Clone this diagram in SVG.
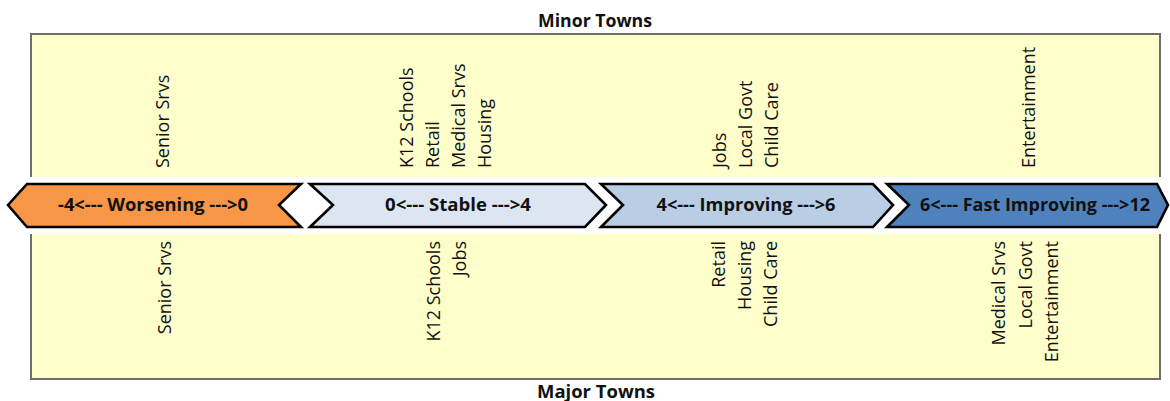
<svg xmlns="http://www.w3.org/2000/svg" width="1170" height="401" viewBox="0 0 1170 401">
  <style>
    .box{fill:#FFFFCC;stroke:#6E6E6E;stroke-width:2}
    .band{fill:#FFFFFF}
    .chev{stroke:#000;stroke-width:2.6;stroke-linejoin:miter}
    .lbl{font-family:"Open Sans","Liberation Sans",sans-serif;font-weight:700;font-size:17.5px;fill:#111;text-anchor:middle}
    .ttl{font-family:"Open Sans","Liberation Sans",sans-serif;font-weight:700;font-size:17.5px;fill:#111;text-anchor:middle}
    .svc{font-family:"Open Sans","Liberation Sans",sans-serif;font-size:18px;fill:#111}
    .up{text-anchor:start}
    .dn{text-anchor:end}
  </style>

  <!-- background panel with the scale band cut through it -->
  <rect class="box" x="31" y="34" width="1129" height="345"/>
  <rect class="band" x="0" y="177" width="1170" height="57"/>

  <!-- titles -->
  <text class="ttl" x="595" y="27" textLength="114" lengthAdjust="spacingAndGlyphs">Minor Towns</text>
  <text class="ttl" x="596" y="398" textLength="118" lengthAdjust="spacingAndGlyphs">Major Towns</text>

  <!-- scale chevrons -->
  <g id="worsening">
    <path class="chev" fill="#F79646" d="M8,205 L27,184 L301,184 L279,205 L301,227 L27,227 Z"/>
    <text class="lbl" x="153" y="211" textLength="190" lengthAdjust="spacingAndGlyphs">-4&lt;--- Worsening ---&gt;0</text>
  </g>
  <g id="stable">
    <path class="chev" fill="#DCE6F2" d="M310,184 L585,184 L606,205 L585,227 L310,227 L333,205 Z"/>
    <text class="lbl" x="458" y="211" textLength="146" lengthAdjust="spacingAndGlyphs">0&lt;--- Stable ---&gt;4</text>
  </g>
  <g id="improving">
    <path class="chev" fill="#B9CDE5" d="M601,184 L873,184 L893,205 L873,227 L601,227 L623,205 Z"/>
    <text class="lbl" x="746" y="211" textLength="179" lengthAdjust="spacingAndGlyphs">4&lt;--- Improving ---&gt;6</text>
  </g>
  <g id="fast-improving">
    <path class="chev" fill="#4F81BD" d="M887,184 L1157,184 L1168,205 L1157,227 L887,227 L909,205 Z"/>
    <text class="lbl" x="1035" y="211" textLength="230" lengthAdjust="spacingAndGlyphs">6&lt;--- Fast Improving ---&gt;12</text>
  </g>

  <!-- minor towns: services listed above the scale -->
  <g id="minor-worsening">
    <text class="svc up" transform="translate(169,168) rotate(-90)">Senior Srvs</text>
  </g>
  <g id="minor-stable">
    <text class="svc up" transform="translate(413,168) rotate(-90)">K12 Schools</text>
    <text class="svc up" transform="translate(439,168) rotate(-90)">Retail</text>
    <text class="svc up" transform="translate(465,168) rotate(-90)">Medical Srvs</text>
    <text class="svc up" transform="translate(491,168) rotate(-90)">Housing</text>
  </g>
  <g id="minor-improving">
    <text class="svc up" transform="translate(726,168) rotate(-90)">Jobs</text>
    <text class="svc up" transform="translate(752,168) rotate(-90)">Local Govt</text>
    <text class="svc up" transform="translate(778,168) rotate(-90)">Child Care</text>
  </g>
  <g id="minor-fast">
    <text class="svc up" transform="translate(1035,168) rotate(-90)">Entertainment</text>
  </g>

  <!-- major towns: services listed below the scale -->
  <g id="major-worsening">
    <text class="svc dn" transform="translate(171,241) rotate(-90)">Senior Srvs</text>
  </g>
  <g id="major-stable">
    <text class="svc dn" transform="translate(440,241) rotate(-90)">K12 Schools</text>
    <text class="svc dn" transform="translate(466,241) rotate(-90)">Jobs</text>
  </g>
  <g id="major-improving">
    <text class="svc dn" transform="translate(725,241) rotate(-90)">Retail</text>
    <text class="svc dn" transform="translate(751,241) rotate(-90)">Housing</text>
    <text class="svc dn" transform="translate(777,241) rotate(-90)">Child Care</text>
  </g>
  <g id="major-fast">
    <text class="svc dn" transform="translate(1005,241) rotate(-90)">Medical Srvs</text>
    <text class="svc dn" transform="translate(1032,241) rotate(-90)">Local Govt</text>
    <text class="svc dn" transform="translate(1058,241) rotate(-90)">Entertainment</text>
  </g>
</svg>
